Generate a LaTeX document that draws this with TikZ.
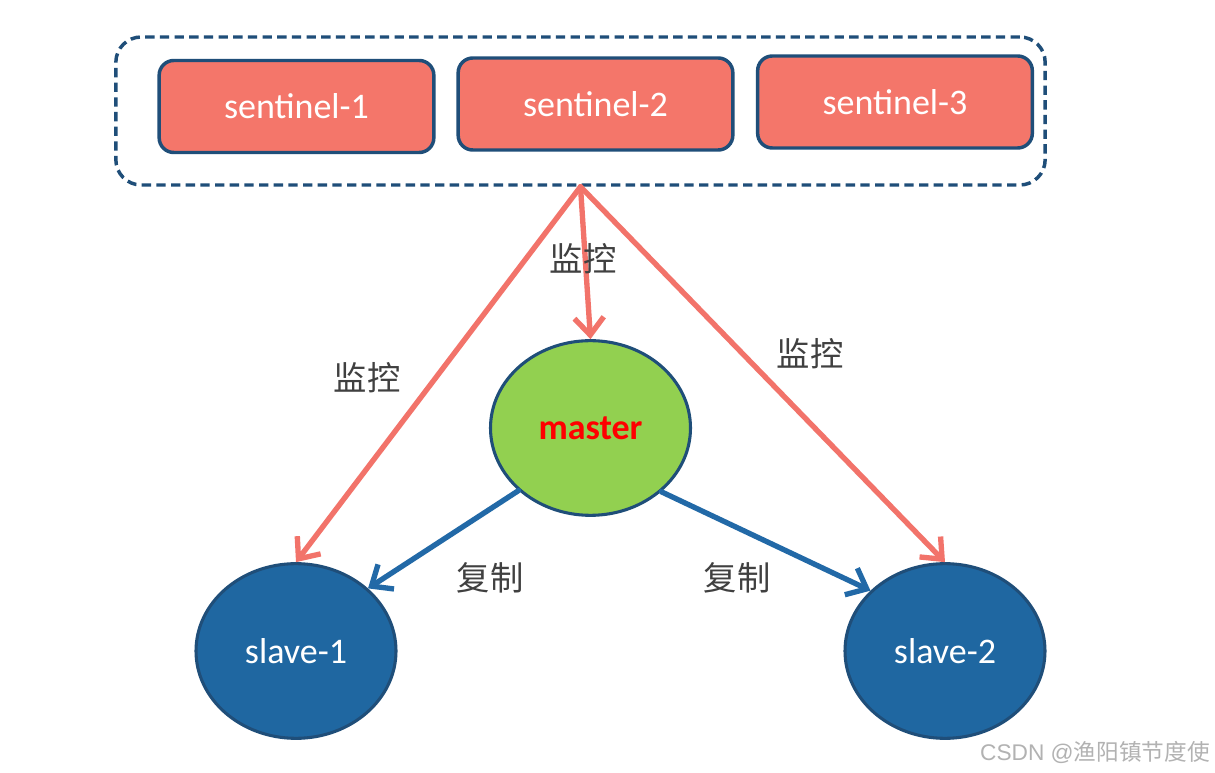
\documentclass[tikz,border=0pt]{standalone}
\usepackage{fontspec}
\setmainfont{Carlito}
\newfontfamily\cjk{Noto Sans CJK SC}
\newfontfamily\wmfont{Liberation Sans}
\usetikzlibrary{arrows.meta,shapes.geometric,calc}
\definecolor{sal}{HTML}{F4766A}
\definecolor{salline}{HTML}{F2736A}
\definecolor{navy}{HTML}{1F4E79}
\definecolor{grn}{HTML}{92D050}
\definecolor{blu}{HTML}{1F67A1}
\definecolor{bluline}{HTML}{2269A7}
\definecolor{lbl}{HTML}{404040}
\tikzset{
  sentbox/.style={draw=navy, line width=2.6pt, fill=sal, rounded corners=11pt,
    minimum width=206pt, minimum height=69pt, inner sep=0pt, text=white,
    font=\fontsize{27}{32}\selectfont},
  grpbox/.style={draw=navy, line width=2.6pt, dash pattern=on 7pt off 4pt,
    rounded corners=19pt, minimum width=697pt, minimum height=111pt, inner sep=0pt},
  ell/.style={ellipse, draw=navy, line width=2.3pt, minimum width=150pt,
    minimum height=131pt, inner sep=0pt, font=\fontsize{27}{32}\selectfont},
  monarrow/.style={draw=salline, line width=4pt, line cap=round,
    -{Straight Barb[length=13pt,width=22pt,line width=4pt]}},
  reparrow/.style={draw=bluline, line width=4pt, line cap=round,
    -{Straight Barb[length=13pt,width=22pt,line width=4pt]}},
  cjklbl/.style={text=lbl, font=\cjk\fontsize{25}{30}\selectfont, inner sep=0pt},
}
\begin{document}
\begin{tikzpicture}[x=0.75pt,y=-0.75pt]
\useasboundingbox[fill=white] (0,0) rectangle (1215,773);
\node[grpbox] (grp) at (580.5,111) {};
\node[sentbox] (s1) at (296.5,106.5) {sentinel-1};
\node[sentbox] (s2) at (595.5,104) {sentinel-2};
\node[sentbox] (s3) at (895,102) {sentinel-3};
\node[ell, fill=grn, text=red, font=\bfseries\fontsize{27}{32}\selectfont] (m) at (590.5,428) {master};
\node[ell, fill=blu, text=white] (sl1) at (296,651) {slave-1};
\node[ell, fill=blu, text=white] (sl2) at (945,651) {slave-2};
\coordinate (src) at (grp.south);
\draw[monarrow] (src) -- (sl1.north);
\draw[monarrow] (src) -- (m.north);
\draw[monarrow] (src) -- (sl2.north);
\draw[reparrow] (m.221) -- (sl1.41);
\draw[reparrow] (m.318) -- (sl2.141);
\node[cjklbl] (l1) at (583,259) {监控};
\node[cjklbl] (l2) at (367,378) {监控};
\node[cjklbl] (l3) at (810,354) {监控};
\node[cjklbl] (l4) at (490,578) {复制};
\node[cjklbl] (l5) at (737,578) {复制};
\node[anchor=east, text=gray!60, inner sep=0pt, font=\fontsize{17}{20}\selectfont] (wm) at (1210,752) {\wmfont CSDN @\cjk 渔阳镇节度使};
\end{tikzpicture}
\end{document}
